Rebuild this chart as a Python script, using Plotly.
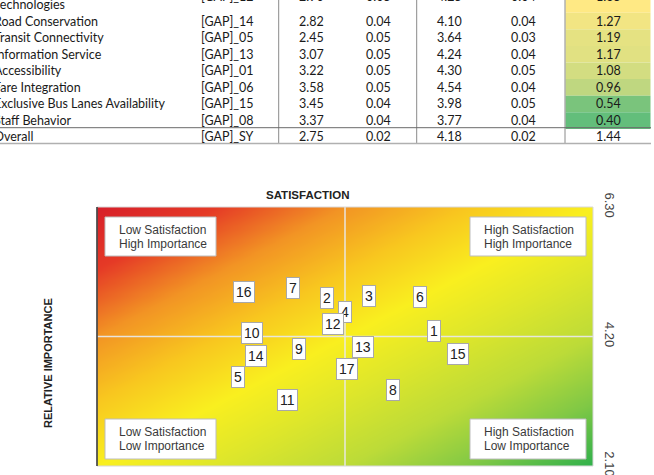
import numpy as np
import plotly.graph_objects as go

# ---------------- data ----------------
# table (top, partially cropped in the reference)
row_names = ["Use of Smart<br>Technologies", "Road Conservation", "Transit Connectivity",
             "Information Service", "Accessibility", "Fare Integration",
             "Exclusive Bus Lanes Availability", "Staff Behavior", "Overall"]
row_codes = ["[GAP]_12", "[GAP]_14", "[GAP]_05", "[GAP]_13", "[GAP]_01", "[GAP]_06",
             "[GAP]_15", "[GAP]_08", "[GAP]_SY"]
sat_mean = [2.90, 2.82, 2.45, 3.07, 3.22, 3.58, 3.45, 3.37, 2.75]
sat_se = [0.05, 0.04, 0.05, 0.05, 0.05, 0.05, 0.04, 0.04, 0.02]
imp_mean = [4.25, 4.10, 3.64, 4.24, 4.30, 4.54, 3.98, 3.77, 4.18]
imp_se = [0.04, 0.04, 0.03, 0.04, 0.05, 0.04, 0.05, 0.04, 0.02]
gap_value = [1.35, 1.27, 1.19, 1.17, 1.08, 0.96, 0.54, 0.40, 1.44]

# quadrant chart
point_ids = [1, 2, 3, 4, 5, 6, 7, 8, 9, 10, 11, 12, 13, 14, 15, 16, 17]
point_sat = [3.20, 2.66, 2.87, 2.75, 2.21, 3.13, 2.49, 2.99, 2.52, 2.28, 2.46, 2.69, 2.84, 2.30, 3.32, 2.24, 2.76]
point_imp = [4.29, 4.83, 4.85, 4.59, 3.55, 4.84, 4.99, 3.33, 4.00, 4.25, 3.17, 4.41, 4.03, 3.88, 3.91, 4.92, 3.67]
sat_range = [1.5, 4.0]
imp_range = [2.1, 6.3]
imp_ticks = [2.10, 4.20, 6.30]
quadrant_labels = [["Low Satisfaction", "High Importance"], ["High Satisfaction", "High Importance"],
                   ["Low Satisfaction", "Low Importance"], ["High Satisfaction", "Low Importance"]]

# ---------------- layout geometry ----------------
W, H = 654, 475
L, R, T, B = 97, 593, 207, 466


def xp(px):
    return (px - L) / (R - L)


def yp(py):
    return (B - py) / (B - T)


fig = go.Figure()

# gradient background
gx = np.linspace(sat_range[0], sat_range[1], 121)
gy = np.linspace(imp_range[0], imp_range[1], 121)
u = (gx - sat_range[0]) / (sat_range[1] - sat_range[0])
v = (gy - imp_range[0]) / (imp_range[1] - imp_range[0])
zz = u[None, :] - v[:, None]
fig.add_trace(go.Heatmap(
    x=gx, y=gy, z=zz, zmin=-1, zmax=1, zsmooth="best", showscale=False, hoverinfo="skip",
    colorscale=[[0.0, "#D71F2A"], [0.12, "#E53A26"], [0.25, "#F29424"], [0.375, "#F8C71F"],
                [0.5, "#F9EF1F"], [0.62, "#DDE62B"], [0.75, "#BCDB38"], [0.875, "#80C845"],
                [1.0, "#2FB04B"]]))

shapes = []
annotations = []

# mid lines
shapes.append(dict(type="line", xref="x", yref="paper", x0=np.mean(sat_range), x1=np.mean(sat_range),
                   y0=0, y1=1, line=dict(color="rgba(232,232,232,0.95)", width=1.5)))
shapes.append(dict(type="line", xref="paper", yref="y", x0=0, x1=1, y0=imp_ticks[1], y1=imp_ticks[1],
                   line=dict(color="rgba(232,232,232,0.95)", width=1.5)))
# plot border
shapes.append(dict(type="rect", xref="paper", yref="paper", x0=0, x1=1, y0=0, y1=1,
                   line=dict(color="#d8d8d8", width=1)))
shapes.append(dict(type="line", xref="paper", yref="paper", x0=0, x1=0, y0=0, y1=1,
                   line=dict(color="#333333", width=1.5)))

# quadrant boxes
box_px = [(105, 216, 217, 256), (470, 586, 217, 256), (105, 216, 419, 459), (470, 586, 419, 459)]
for (x0, x1, y0, y1), lines in zip(box_px, quadrant_labels):
    shapes.append(dict(type="rect", xref="paper", yref="paper", x0=xp(x0), x1=xp(x1), y0=yp(y1), y1=yp(y0),
                       fillcolor="white", line=dict(color="#bdbdbd", width=1), layer="above"))
    for k, txt in enumerate(lines):
        annotations.append(dict(xref="paper", yref="paper", x=xp(x0 + 12), y=yp(y0 + 13 + 13.8 * k),
                                text=txt, showarrow=False, xanchor="left", yanchor="middle",
                                font=dict(family="Arial, Liberation Sans", size=12, color="#3a3a3a")))

# numbered points
for pid, sx, iy in zip(point_ids, point_sat, point_imp):
    annotations.append(dict(xref="x", yref="y", x=sx, y=iy, text=str(pid), showarrow=False,
                            xanchor="center", yanchor="middle",
                            bgcolor="white", bordercolor="#a8a8a8", borderwidth=1, borderpad=2,
                            font=dict(family="Arial, Liberation Sans", size=14, color="#222222")))

# axis titles
annotations.append(dict(xref="paper", yref="paper", x=xp(307), y=yp(195), text="<b>SATISFACTION</b>",
                        showarrow=False, xanchor="center", yanchor="middle",
                        font=dict(family="Arial, Liberation Sans", size=11.5, color="#222")))
annotations.append(dict(xref="paper", yref="paper", x=xp(48), y=yp(363), text="<b>RELATIVE IMPORTANCE</b>",
                        showarrow=False, textangle=-90, xanchor="center", yanchor="middle",
                        font=dict(family="Arial, Liberation Sans", size=11, color="#222")))

# ---------------- table ----------------
tfont = dict(family="Lato", size=12.5, color="#1a1a1a")
row_h = 16.6
row_centers = [-3.9] + [21 + row_h * i for i in range(7)] + [136]
row_tops = [-30] + [c - row_h / 2 for c in row_centers[1:8]] + [127.7]
row_bots = [c + row_h / 2 for c in row_centers[:1]] + [c + row_h / 2 for c in row_centers[1:8]] + [143.5]
row_bots[0] = row_tops[1]

g_min, g_max = min(gap_value[:-1]), max(gap_value[:-1])
c_lo, c_hi = (99, 190, 123), (255, 233, 132)
for i in range(len(row_names)):
    cy = row_centers[i]
    annotations.append(dict(xref="paper", yref="paper", x=xp(-8), y=yp(cy), text=row_names[i],
                            showarrow=False, xanchor="left", yanchor="middle", align="left", font=tfont))
    annotations.append(dict(xref="paper", yref="paper", x=xp(199), y=yp(cy), text=row_codes[i],
                            showarrow=False, xanchor="left", yanchor="middle", font=tfont))
    for cx, val in [(311, sat_mean[i]), (378, sat_se[i]), (449, imp_mean[i]), (523, imp_se[i]),
                    (608, gap_value[i])]:
        annotations.append(dict(xref="paper", yref="paper", x=xp(cx), y=yp(cy), text=f"{val:.2f}",
                                showarrow=False, xanchor="center", yanchor="middle", font=tfont))
    if i < len(row_names) - 1:
        t = (gap_value[i] - g_min) / (g_max - g_min)
        col = "rgb(%d,%d,%d)" % tuple(round(a + t * (b - a)) for a, b in zip(c_lo, c_hi))
        shapes.append(dict(type="rect", xref="paper", yref="paper", x0=xp(565.5), x1=xp(650.5),
                           y0=yp(row_bots[i]), y1=yp(row_tops[i]), fillcolor=col, line=dict(width=0),
                           layer="below"))

for vx in [278.7, 416.7, 565]:
    shapes.append(dict(type="line", xref="paper", yref="paper", x0=xp(vx), x1=xp(vx), y0=yp(143.5), y1=yp(-5),
                       line=dict(color="#8a8a8a", width=1)))
shapes.append(dict(type="line", xref="paper", yref="paper", x0=xp(0), x1=xp(651), y0=yp(127.7), y1=yp(127.7),
                   line=dict(color="#6a6a6a", width=1)))
shapes.append(dict(type="line", xref="paper", yref="paper", x0=xp(0), x1=xp(651), y0=yp(143.5), y1=yp(143.5),
                   line=dict(color="#b0b0b0", width=1.5)))

fig.update_layout(
    width=W, height=H, margin=dict(l=L, r=W - R, t=T, b=H - B, autoexpand=False),
    paper_bgcolor="white", plot_bgcolor="white", showlegend=False,
    shapes=shapes, annotations=annotations,
    xaxis=dict(range=sat_range, showticklabels=False, showgrid=False, zeroline=False, ticks="",
               automargin=False),
    yaxis=dict(range=[imp_range[0] - 0.0005, imp_range[1] + 0.0005], side="right", tickvals=imp_ticks,
               ticktext=[f"{t:.2f}" for t in imp_ticks], ticklabeloverflow="allow", automargin=False,
               tickangle=90, showgrid=False, zeroline=False, ticks="", ticklabelstandoff=8,
               tickfont=dict(family="Arial, Liberation Sans", size=13, color="#444")),
)

fig.write_html("out.html")
